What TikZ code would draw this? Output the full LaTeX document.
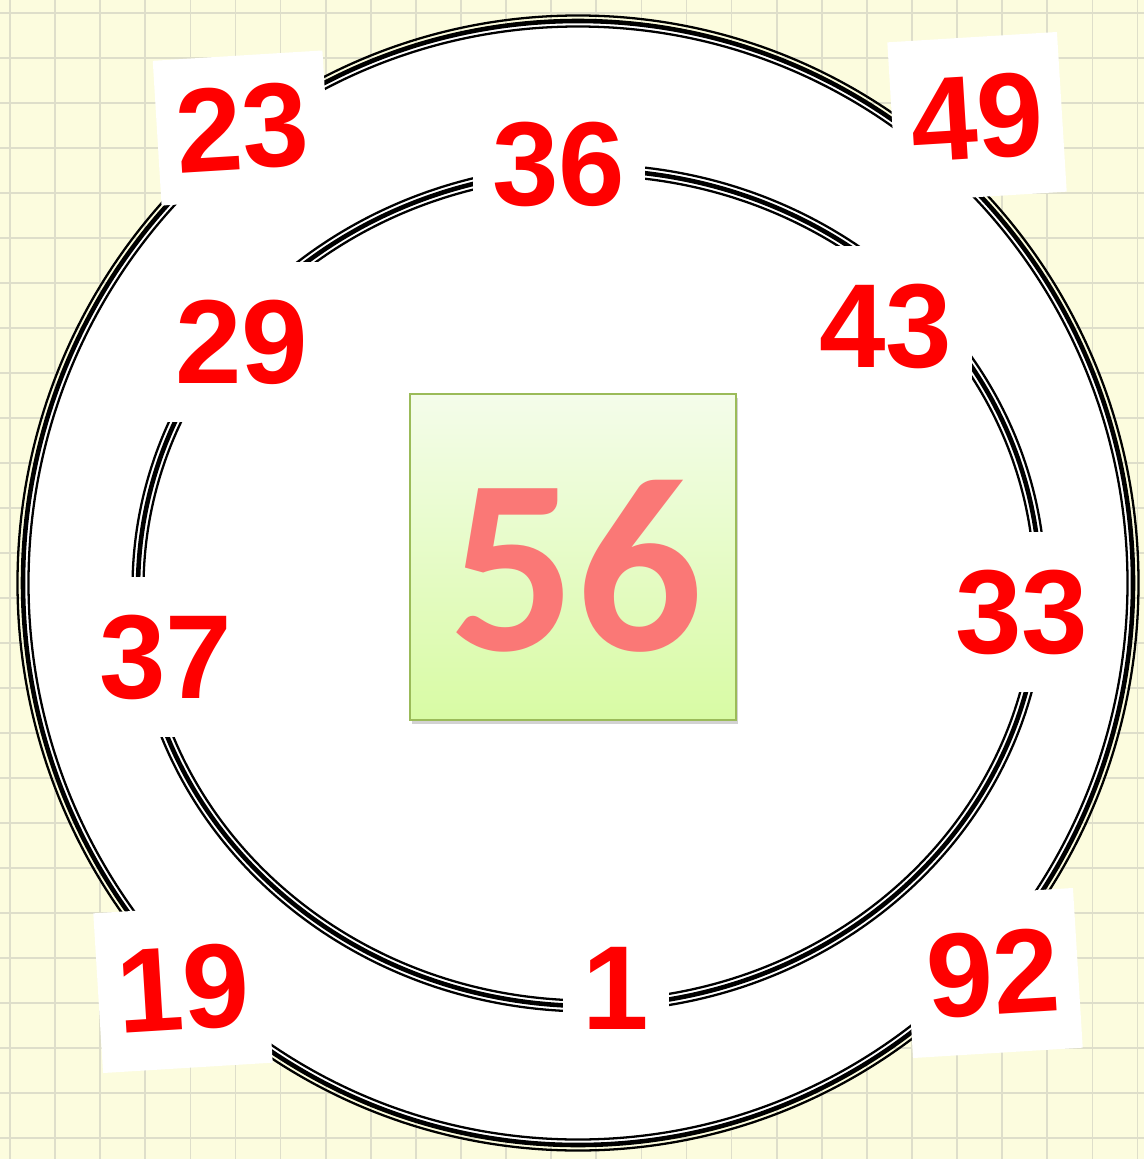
\documentclass[tikz,border=0pt]{standalone}
\usepackage{fontspec}
\usetikzlibrary{shadows}

\newfontfamily\numfont{Liberation Sans}
\newfontfamily\calfont{Carlito}

\definecolor{paper}{RGB}{252,252,222}
\definecolor{gridline}{RGB}{222,222,202}
\definecolor{numred}{RGB}{255,0,0}
\definecolor{salmon}{RGB}{250,120,118}
\definecolor{sqedge}{RGB}{155,187,89}
\definecolor{sqtop}{RGB}{244,252,234}
\definecolor{sqbot}{RGB}{216,251,164}

\begin{document}
\begin{tikzpicture}[
  x=0.02cm, y=-0.02cm,
  grid/.style={draw=gridline, line width=1pt},
  outerlbl/.style={fill=white, rotate=3.5, inner sep=0pt,
    minimum width=3.4cm, minimum height=3.2cm,
    text=numred, font=\numfont\bfseries\fontsize{68}{68}\selectfont},
  innerlbl/.style={fill=white, inner xsep=0.4cm, inner ysep=0pt,
    minimum height=3.2cm,
    text=numred, font=\numfont\bfseries\fontsize{68}{68}\selectfont},
  square/.style={draw=sqedge, line width=1.1pt, top color=sqtop, bottom color=sqbot,
    minimum size=6.52cm, inner sep=0pt,
    drop shadow={shadow xshift=1pt, shadow yshift=-2.5pt, opacity=0.35}},
  bignum/.style={text=salmon, inner sep=0pt,
    font=\calfont\bfseries\fontsize{142}{142}\selectfont}
]

%% ── Paper ─────────────────────────────────────────────────────────────────────
\useasboundingbox (0,0) rectangle (1144,1159);
\fill[paper] (0,0) rectangle (1144,1159);
\foreach \i in {0,...,25}
  \draw[grid] ({10+45.1*\i},0) -- ({10+45.1*\i},1159);
\foreach \j in {0,...,25}
  \draw[grid] (0,{13+45*\j}) -- (1144,{13+45*\j});

%% ── Rings ─────────────────────────────────────────────────────────────────────
% outer ring: thin, thick, thin
\fill[white] (578,583) ellipse [x radius=555, y radius=562];
\foreach \d/\w in {0/2.6pt, 5.5/1.3pt, -5.5/1.3pt}
  \draw[line width=\w] (578,583) ellipse [x radius=555+\d, y radius=562+\d];

% inner ring
\foreach \d/\w in {0/2.6pt, 5.5/1.3pt, -5.5/1.3pt}
  \draw[line width=\w] (589,588) ellipse [x radius=451+\d, y radius=418+\d];

%% ── Centre ────────────────────────────────────────────────────────────────────
\node[square] (centre) at (573,557) {};
\node[bignum] (value) at (576,566) {56};

%% ── Outer values ──────────────────────────────────────────────────────────────
\node[outerlbl, minimum height=2.9cm] (o23) at (242,128) {23};
\node[outerlbl] (o49) at (977,117) {49};
\node[outerlbl] (o19) at (183,988) {19};
\node[outerlbl] (o92) at (993,973) {92};

%% ── Inner values ──────────────────────────────────────────────────────────────
\node[innerlbl] (i36) at (559,164) {36};
\node[innerlbl] (i29) at (242,342) {29};
\node[innerlbl] (i43) at (886,326) {43};
\node[innerlbl] (i33) at (1022,612) {33};
\node[innerlbl] (i37) at (166,657) {37};
\node[innerlbl] (i1)  at (616,988) {1};

\end{tikzpicture}
\end{document}
